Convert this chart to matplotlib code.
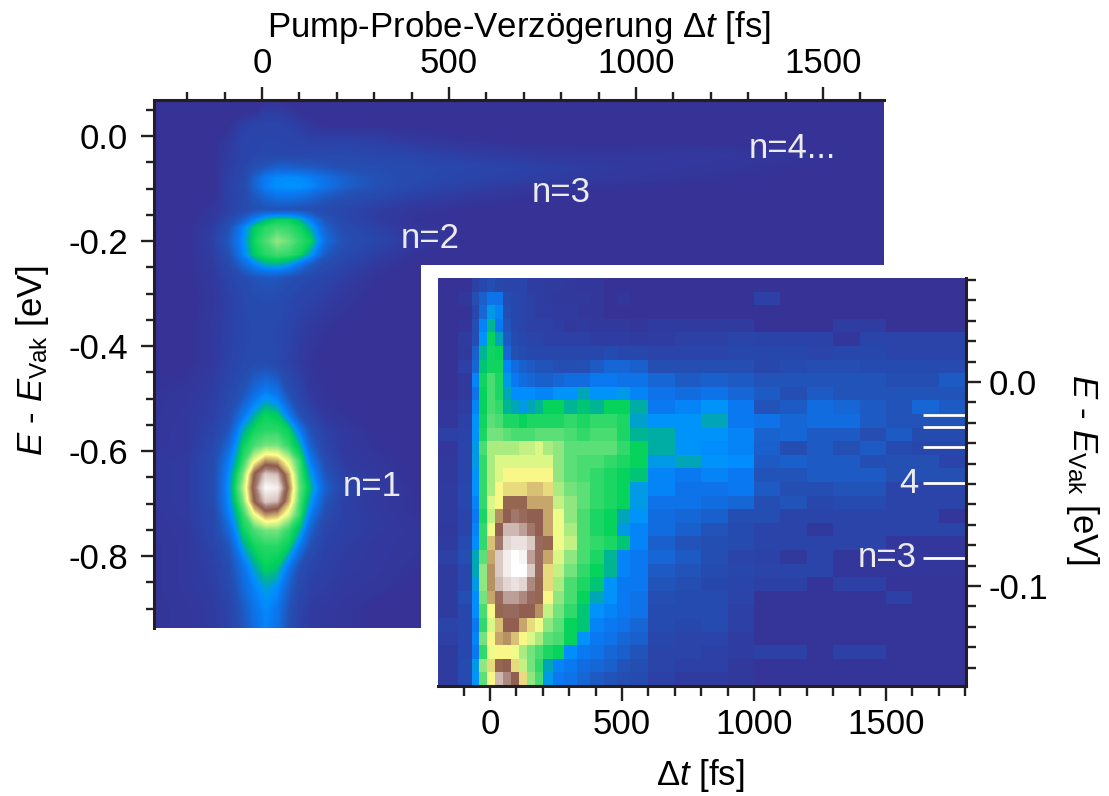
import matplotlib
matplotlib.use("Agg")
import matplotlib.pyplot as plt
import numpy as np
from matplotlib.colors import LinearSegmentedColormap
from matplotlib.ticker import MultipleLocator

plt.rcParams['font.family'] = ['Liberation Sans', 'DejaVu Sans']
plt.rcParams['mathtext.fontset'] = 'custom'
plt.rcParams['mathtext.rm'] = 'Liberation Sans'
plt.rcParams['mathtext.it'] = 'Liberation Sans:italic'
plt.rcParams['mathtext.bf'] = 'Liberation Sans:bold'

W, H = 1109, 796

# ---- data (intensity levels 0..99) ----
main_t = [-289,-200,-130,-90,-50,-20,10,40,70,100,130,170,220,300,400,550,700,900,1200,1500,1663]
main_e = [.0686,.045,.02,-.01,-.035,-.06,-.08,-.095,-.115,-.14,-.16,-.175,-.2,-.225,-.245,-.27,-.31,
          -.37,-.43,-.49,-.53,-.56,-.59,-.62,-.645,-.67,-.695,-.72,-.75,-.78,-.82,-.86,-.90,-.937]
main_rows = [
 [0],
 [0,0,0,0,0,0,5,5,3],
 [0,0,0,0,6,8,8,8,7,5,2],
 [0,0,0,3,8,9,9,9,8,8,7,7,7,6,3,1],
 [0,0,0,4,8,9,10,10,10,10,10,10,10,9,8,5,3,2,3,1],
 [0,0,0,5,9,14,17,20,20,19,18,16,14,13,11,9,7,4,2],
 [0,0,0,6,10,20,28,31,32,31,29,25,20,15,11,8,6,3,1],
 [0,0,0,6,11,21,29,32,33,33,31,26,20,15,10,6,3,1],
 [0,0,0,6,10,17,22,26,26,25,22,18,14,11,6,3,1],
 [0,0,2,6,11,14,15,15,15,14,13,11,9,5,2],
 [0,0,3,10,20,30,38,42,42,38,28,16,10,5,1],
 [0,0,5,14,30,41,45,47,46,43,36,20,12,7,2],
 [0,0,6,17,32,43,48,54,51,46,42,24,14,9,3],
 [0,0,5,14,30,41,45,47,46,43,34,18,11,6,1],
 [0,0,4,10,22,30,36,37,34,26,18,12,8,3],
 [0,0,3,8,12,16,17,17,14,12,10,8,5,1],
 [0,0,2,6,10,12,13,12,10,8,7,5,2],
 [0,0,3,6,9,11,11,10,8,5,3,1],
 [0,0,3,7,10,12,12,10,7,4,1],
 [1,2,5,10,16,24,30,26,14,8,3,1],
 [1,3,6,12,26,36,42,40,28,14,8,2,1],
 [2,3,8,16,36,43,45,45,42,28,14,6,3],
 [2,3,10,22,42,48,52,52,46,38,20,8,3,1],
 [3,4,12,28,46,62,72,70,60,46,28,12,4,2],
 [3,4,12,31,52,77,90,88,70,48,34,16,6,3],
 [3,4,12,32,56,80,98,96,74,50,38,20,8,4,1],
 [3,4,12,31,52,77,90,88,70,48,34,16,6,3,1],
 [2,4,10,28,46,62,72,70,60,46,28,12,6,4,1],
 [2,3,10,22,42,48,52,52,46,38,20,8,6,4,2],
 [1,3,8,16,36,43,45,45,42,28,14,7,5,3,2],
 [1,3,6,12,26,36,42,40,28,14,8,6,4,3,1],
 [1,3,5,10,22,30,35,32,20,10,6,5,3,2],
 [1,2,4,8,18,26,31,27,16,8,4,3,2],
 [1,2,4,7,16,24,30,26,14,7,4,3,2],
]

inset_t_edges = [-200,-120,-70,-40,-10,20,50,80,110,140,170,200,240,280,330,380,430,480,530,600,
                 700,800,900,1000,1100,1200,1300,1400,1500,1600,1700,1800]
inset_left = [
 [0,0,6,10,14,10,8,8,8,5,5,4,4,3,2,2,0,0,0],
 [0,2,14,20,26,26,12,10,8,6,5,4,3,3,3,2,0,2,0],
 [0,0,10,22,34,30,14,10,8,6,5,5,4,4,2,2,0,0,0],
 [0,1,14,30,38,28,16,10,8,6,6,6,5,3,4,3,3,3,2],
 [0,4,14,33,42,36,18,12,10,8,8,6,6,6,6,5,5,5,4],
 [0,3,20,38,43,42,22,15,12,10,10,10,9,9,10,10,12,10,10],
 [0,6,22,40,43,43,30,24,20,18,16,16,14,14,15,18,22,22,20],
 [0,3,30,43,48,44,34,28,24,22,20,20,22,24,24,28,28,26,26],
 [0,3,26,42,48,44,36,32,32,32,30,30,33,33,36,33,33,34,30],
 [2,5,30,42,48,46,38,36,34,36,38,42,42,38,40,38,42,42,37],
 [2,6,33,43,50,48,44,44,42,44,44,44,44,46,44,46,46,44,35],
 [6,7,33,44,52,52,50,48,48,48,50,50,50,48,46,48,48,44,38],
 [2,8,34,48,56,56,56,56,58,58,60,56,54,50,50,50,50,46,42],
 [3,8,34,46,56,60,60,60,60,60,60,60,54,50,48,48,46,44,42],
 [3,8,33,46,56,60,64,64,64,64,64,64,54,50,48,46,44,42,40],
 [4,10,33,46,56,64,66,66,66,68,68,66,56,52,50,46,44,42,34],
 [4,10,30,46,60,64,76,76,76,70,70,70,58,54,50,46,44,42,34],
 [4,8,28,44,58,72,78,82,80,78,78,70,62,54,48,44,42,36,33],
 [3,8,30,46,62,78,88,88,86,82,78,70,62,56,48,44,42,34,30],
 [4,12,32,46,68,82,92,94,94,90,80,76,62,58,48,46,44,40,30],
 [6,14,36,50,70,90,96,99,97,86,80,70,60,54,48,44,38,30,28],
 [4,10,36,54,72,90,96,99,99,90,80,66,58,52,46,42,38,30,28],
 [4,10,34,54,72,88,92,94,92,84,76,66,56,48,44,40,33,28,28],
 [4,14,32,52,70,80,86,86,84,80,76,64,54,48,42,36,33,28,26],
 [4,10,32,48,64,76,80,80,78,78,72,58,52,46,40,33,30,28,26],
 [8,10,28,46,60,68,78,78,70,66,62,54,50,42,40,30,28,26,22],
 [6,10,30,52,64,70,72,68,64,60,56,50,48,42,33,28,26,22,20],
 [4,10,28,46,62,64,64,62,56,52,48,44,42,32,28,26,22,20,16],
 [4,12,34,54,66,76,78,66,58,52,46,36,30,28,24,22,20,16,14],
 [4,12,33,50,64,88,84,78,66,54,48,34,28,26,22,18,16,14,12],
]
inset_right = [
 [0,0,0,0,0,0,0,0,0,0,0,0],
 [0,0,0,0,6,0,0,0,0,0,0,0],
 [0,0,0,0,0,0,0,0,0,0,0,0],
 [4,4,4,4,0,0,0,5,5,0,0,0],
 [5,6,6,8,7,7,7,2,8,8,8,8],
 [8,8,8,10,10,10,8,10,10,8,8,8],
 [14,14,14,14,10,12,14,14,12,12,12,12],
 [22,18,20,18,16,16,16,16,16,14,14,18],
 [26,24,26,22,18,14,18,16,16,16,16,16],
 [28,30,33,28,16,18,24,22,18,16,22,18],
 [33,33,36,28,26,22,24,24,18,16,16,16],
 [37,33,33,30,21,22,18,18,13,18,12,12],
 [37,33,32,30,20,14,18,15,18,12,10,10],
 [34,36,33,32,18,20,18,18,14,15,15,8],
 [30,28,30,28,16,16,18,18,18,15,15,15],
 [30,26,26,28,18,14,14,16,16,8,8,8],
 [26,26,24,22,14,16,10,12,12,8,8,8],
 [24,22,20,14,14,8,8,8,8,8,8,2],
 [24,20,16,12,8,8,3,8,8,8,8,8],
 [20,16,14,12,8,8,8,8,8,2,2,2],
 [22,18,14,8,7,3,8,2,2,2,2,2],
 [18,16,12,10,8,8,8,2,2,2,2,2],
 [16,14,10,8,6,6,1,6,6,1,1,1],
 [14,12,12,8,1,1,1,1,1,6,1,1],
 [12,12,12,6,1,1,1,1,1,1,1,1],
 [12,10,12,6,1,1,1,1,1,1,1,1],
 [10,8,8,5,1,1,1,1,1,1,1,1],
 [8,8,6,5,6,6,1,6,6,1,1,1],
 [8,6,6,3,1,1,1,1,1,1,1,1],
 [6,4,4,3,1,1,1,1,1,1,1,1],
]

level_marks_e = [-0.0163, -0.0222, -0.032, -0.0497, -0.0862]
main_labels = ["n=1", "n=2", "n=3", "n=4..."]
main_label_t = [295, 450, 800, 1418]
main_label_e = [-0.668, -0.195, -0.107, -0.024]

# ---- colour map ----
stops = [(0.00,(54,50,150)),(0.08,(42,68,170)),(0.15,(36,80,180)),(0.28,(10,120,240)),(0.33,(0,145,255)),
         (0.37,(0,170,170)),(0.42,(0,210,90)),(0.52,(110,225,125)),(0.58,(190,240,130)),
         (0.64,(255,255,140)),(0.70,(205,175,110)),(0.78,(140,90,75)),(0.84,(165,125,115)),
         (0.90,(215,195,190)),(1.00,(255,255,255))]
cmap = LinearSegmentedColormap.from_list("pes", [(p, tuple(c/255 for c in rgb)) for p, rgb in stops], N=512)

def px_axes(l, t, r, b, **kw):
    return fig.add_axes([l/W, 1-b/H, (r-l)/W, (b-t)/H], **kw)

fig = plt.figure(figsize=(W/100, H/100), dpi=100, facecolor='white')
DARK = '#231f20'
FS = 25
LABEL = r"$\mathit{E}$ - $\mathit{E}_{\mathrm{Vak}}$ [eV]"

# ---- main map ----
ax = px_axes(154, 100, 884, 628)
z = np.array([r + [0]*(len(main_t)-len(r)) for r in main_rows], float)
ax.contourf(main_t, main_e, z, levels=np.linspace(-1, 100, 203), cmap=cmap, vmin=0, vmax=99, antialiased=False)
ax.set_xlim(-289, 1663)
ax.set_ylim(-0.937, 0.0686)
ax.xaxis.set_ticks_position('top')
ax.xaxis.set_label_position('top')
ax.xaxis.set_minor_locator(MultipleLocator(100))
ax.yaxis.set_minor_locator(MultipleLocator(0.05))
ax.tick_params(which='major', length=9.5, width=1.7, color=DARK, labelsize=FS, labelcolor='black')
ax.tick_params(which='minor', length=6, width=1.7, color=DARK)
ax.tick_params(axis='x', which='major', pad=5)
ax.tick_params(axis='y', which='major', pad=9)
ax.set_xticks([0, 500, 1000, 1500])
ax.set_yticks([0, -0.2, -0.4, -0.6, -0.8])
ax.set_yticklabels(['0.0', '-0.2', '-0.4', '-0.6', '-0.8'])
for s in ['right', 'bottom']:
    ax.spines[s].set_visible(False)
for s in ['top', 'left']:
    ax.spines[s].set_linewidth(2.2)
    ax.spines[s].set_color(DARK)
ax.set_xlabel(r"Pump-Probe-Verzögerung Δ$\mathit{t}$ [fs]", fontsize=FS)
ax.xaxis.set_label_coords((519-154)/730, (628-37)/528)
ax.set_ylabel(LABEL, fontsize=FS, va='center')
ax.yaxis.set_label_coords((33-154)/730, (628-360)/528)
for s, t, e in zip(main_labels, main_label_t, main_label_e):
    ax.text(t, e, s, color='#ebebeb', fontsize=FS, ha='center', va='center')

# ---- white mat behind inset ----
mat = px_axes(421, 265, 890, 690)
mat.set_xticks([]); mat.set_yticks([])
for s in mat.spines.values():
    s.set_visible(False)
mat.set_facecolor('white')

# ---- inset ----
ins = px_axes(438, 278, 966, 686)
zi = np.array([a + b for a, b in zip(inset_left, inset_right)], float)
e_edges = np.linspace(0.051, -0.149, zi.shape[0] + 1)
ins.pcolormesh(inset_t_edges, e_edges, zi, cmap=cmap, vmin=0, vmax=99, shading='flat')
ins.set_xlim(-197, 1803)
ins.set_ylim(-0.149, 0.051)
ins.yaxis.set_ticks_position('right')
ins.yaxis.set_label_position('right')
ins.set_xticks([0, 500, 1000, 1500])
ins.xaxis.set_minor_locator(MultipleLocator(100))
ins.set_yticks([0, -0.1])
ins.set_yticklabels(['0.0', '-0.1'])
ins.yaxis.set_minor_locator(MultipleLocator(0.01))
ins.tick_params(which='major', length=11, width=1.7, color=DARK, labelsize=FS, pad=5)
ins.tick_params(which='minor', length=7.5, width=1.7, color=DARK)
for s in ['top', 'left']:
    ins.spines[s].set_visible(False)
for s in ['right', 'bottom']:
    ins.spines[s].set_linewidth(2.2)
    ins.spines[s].set_color(DARK)
ins.set_xlabel(r"Δ$\mathit{t}$ [fs]", fontsize=FS)
ins.xaxis.set_label_coords((700-438)/528, (686-757)/408)
ins.set_ylabel(LABEL, fontsize=FS, rotation=270, va='center')
ins.yaxis.set_label_coords((1083-438)/528, (686-470)/408)
for e in level_marks_e:
    ins.plot([1640, 1803], [e, e], color='white', lw=2, solid_capstyle='butt')
ins.text(1585, level_marks_e[3], "4", color='#ebebeb', fontsize=FS, ha='center', va='center')
ins.text(1505, level_marks_e[4], "n=3", color='#ebebeb', fontsize=FS, ha='center', va='center')

fig.savefig("out.png", dpi=100)
